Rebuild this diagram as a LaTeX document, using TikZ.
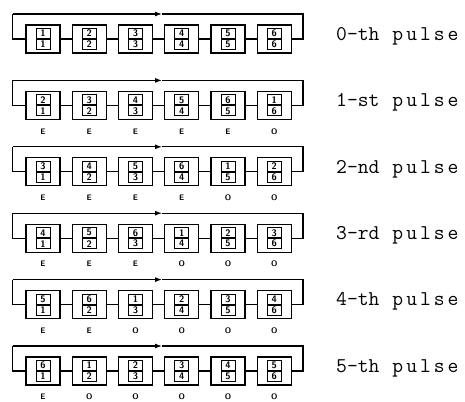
\documentclass[tikz,border=0pt]{standalone}
\usepackage{fontspec}
\usetikzlibrary{arrows.meta}
\newcommand\mypulseword{p\kern3pt u\kern3pt l\kern3pt s\kern3pt e}
\begin{document}
\begin{tikzpicture}[x=1pt,y=-1pt,
  outer/.style={draw,line width=1.1pt,minimum width=34pt,minimum height=28pt,inner sep=0pt},
  cell/.style={draw,line width=0.9pt,minimum width=14pt,minimum height=10pt,inner sep=0pt,
    font=\sffamily\bfseries\fontsize{9.5}{9.5}\selectfont},
  wire/.style={line width=1.1pt},
  eo/.style={font=\sffamily\bfseries\fontsize{8}{8}\selectfont},
  pulse/.style={anchor=west,inner sep=0pt,font=\ttfamily\fontsize{21}{21}\selectfont}]
\useasboundingbox (0,0) rectangle (465,401);
\foreach \r in {0,...,5}{
  \pgfmathsetmacro\T{14+66.4*\r}
  \foreach \i in {1,...,6}{
    \pgfmathtruncatemacro\tv{mod(\i-1+\r,6)+1}
    \node[outer] (b\r-\i) at ({43+46.25*(\i-1)},{\T+25}) {};
    \node[cell,anchor=south] (t\r-\i) at (b\r-\i.center) {\tv};
    \node[cell,anchor=north] (u\r-\i) at (b\r-\i.center) {\i};
  }
  \foreach \i [evaluate=\i as \j using int(\i+1)] in {1,...,5}
    \draw[wire] (b\r-\i.east) -- (b\r-\j.west);
  \coordinate (L\r) at (12.7,\T);
  \coordinate (M\r) at (162,\T);
  \coordinate (R\r) at (303,\T);
  \draw[wire] (b\r-1.west) -| (L\r);
  \draw[wire,-{Latex[length=7pt,width=5pt]}] (L\r) -- (M\r);
  \draw[wire] (M\r) -- (R\r) |- (b\r-6.east);
}
\node[pulse] (p0) at (336,{14+22}) {0-th\hspace{13pt}\mypulseword};
\node[pulse] (p1) at (336,{14+66.4+22}) {1-st\hspace{13pt}\mypulseword};
\node[pulse] (p2) at (336,{14+2*66.4+22}) {2-nd\hspace{13pt}\mypulseword};
\node[pulse] (p3) at (336,{14+3*66.4+22}) {3-rd\hspace{13pt}\mypulseword};
\node[pulse] (p4) at (336,{14+4*66.4+22}) {4-th\hspace{13pt}\mypulseword};
\node[pulse] (p5) at (336,{14+5*66.4+22}) {5-th\hspace{13pt}\mypulseword};
\foreach \r in {1,...,5}{
  \pgfmathsetmacro\T{14+66.4*\r}
  \foreach \i in {1,...,6}{
    \pgfmathsetmacro\lt{\i<=6-\r ? "E" : "O"}
    \node[eo] (l\r-\i) at ({43+46.25*(\i-1)},{\T+51}) {\lt};
  }
}
\end{tikzpicture}
\end{document}
